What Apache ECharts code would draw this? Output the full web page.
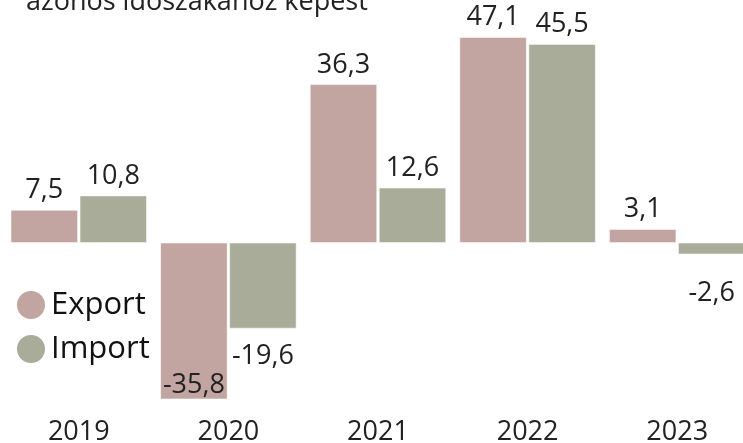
<!DOCTYPE html>
<html>
<head>
<meta charset="utf-8">
<script src="https://cdn.jsdelivr.net/npm/echarts/dist/echarts.min.js"></script>
<style>
  html, body { margin: 0; padding: 0; background: #fff; }
  #chart { width: 743px; height: 443px; }
</style>
</head>
<body>
<div id="chart"></div>
<script>
const years = ['2019', '2020', '2021', '2022', '2023'];
const exportValues = [7.5, -35.8, 36.3, 47.1, 3.1];
const importValues = [10.8, -19.6, 12.6, 45.5, -2.6];

const fmt = v => String(v).replace('.', ',');
const font = '"Open Sans", "Noto Sans", sans-serif';

// negative labels: Excel-like placement, set per point
function buildData (values, negPos) {
  return values.map((v, i) => {
    const item = { value: v };
    if (v < 0) {
      item.label = negPos[i];
    }
    return item;
  });
}

const chart = echarts.init(document.getElementById('chart'));
const option = {
  backgroundColor: '#fff',
  animation: false,
  color: ['#C2A4A1', '#A8AC99'],
  title: {
    text: 'azonos időszakához képest',
    left: 21,
    top: -16,
    textStyle: { fontFamily: font, fontSize: 27, fontWeight: 'normal', color: '#222' }
  },
  legend: {
    orient: 'vertical',
    left: 10,
    top: 284,
    icon: 'circle',
    itemWidth: 30,
    itemHeight: 30,
    itemGap: 12,
    textStyle: { fontFamily: font, fontSize: 31, color: '#111' },
    data: ['Export', 'Import']
  },
  // the last bar runs past the right edge, as in the original crop
  grid: { left: 4, width: 748, top: 24.5, height: 393, outerBoundsMode: 'none', containLabel: false },
  xAxis: {
    type: 'category',
    data: years,
    axisLine: { show: false },
    axisTick: { show: false },
    axisLabel: { fontFamily: font, fontSize: 27, color: '#222', margin: 1 }
  },
  yAxis: {
    type: 'value',
    min: -40,
    max: 50,
    show: false,
    splitLine: { show: false }
  },
  series: [
    {
      name: 'Export',
      type: 'bar',
      barWidth: 67,
      barGap: '3%',
      itemStyle: { borderColor: '#fff', borderWidth: 0.5 },
      label: {
        show: true, position: 'top', distance: 6,
        fontFamily: font, fontSize: 27, color: '#222',
        formatter: p => fmt(p.value)
      },
      data: buildData(exportValues, { 1: { position: 'insideBottom', distance: 0 } })
    },
    {
      name: 'Import',
      type: 'bar',
      barWidth: 67,
      itemStyle: { borderColor: '#fff', borderWidth: 0.5 },
      label: {
        show: true, position: 'top', distance: 6,
        fontFamily: font, fontSize: 27, color: '#222',
        formatter: p => fmt(p.value)
      },
      data: buildData(importValues, {
        1: { position: 'bottom', distance: 14 },
        4: { position: 'bottom', distance: 26 }
      })
    }
  ]
};
chart.setOption(option);
</script>
</body>
</html>
